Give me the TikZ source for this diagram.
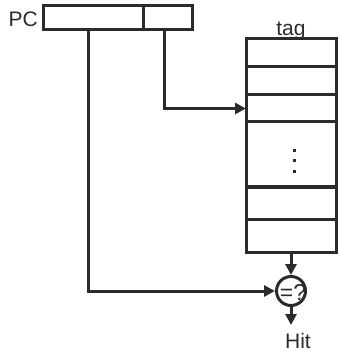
\documentclass[tikz,border=0pt]{standalone}
\usepackage{fontspec}
\setmainfont{Liberation Sans}
\usetikzlibrary{arrows.meta}
\definecolor{ink}{HTML}{2B2B2B}
\tikzset{
  lbl/.style={font=\fontsize{21}{24}\selectfont,text=ink,inner sep=0pt},
  regbox/.style={draw=ink,line width=3pt,rectangle,anchor=north west,inner sep=0pt,outer sep=0pt,minimum height=24pt},
  cell/.style={draw=ink,line width=3pt,rectangle,anchor=north west,inner sep=0pt,outer sep=0pt,minimum width=90pt},
  arr/.style={draw=ink,line width=3pt,-{Triangle[length=11pt,width=11pt]}}}
\begin{document}
\begin{tikzpicture}[x=1pt,y=-1pt]
\useasboundingbox (0,0) rectangle (338,352);
% PC register
\node[regbox,minimum width=100pt] (pcA) at (43,6) {};
\node[regbox,minimum width=49pt] (pcB) at (143,6) {};
\node[lbl,anchor=base east] (pc) at (38,27) {PC};
% tag array
\node[lbl,anchor=base] (tag) at (291,36) {tag};
\node[cell,minimum height=28pt] (r1) at (246,39) {};
\node[cell,minimum height=28pt] (r2) at (246,67) {};
\node[cell,minimum height=27pt] (r3) at (246,95) {};
\node[cell,minimum height=65pt] (r4) at (246,122) {};
\node[cell,minimum height=32pt] (r5) at (246,187) {};
\node[cell,minimum height=33pt] (r6) at (246,219) {};
\fill[ink] (292.5,149.5) rectangle ++(3,3);
\fill[ink] (292.5,159.5) rectangle ++(3,3);
\fill[ink] (292.5,170) rectangle ++(3,3);
% comparator
\node[draw=ink,line width=3pt,circle,minimum size=29pt,inner sep=0pt] (cmp) at (291,291) {};
\node[lbl,font=\fontsize{23}{24}\selectfont] (cmpq) at (293,292) {=?};
\node[lbl,anchor=north,outer ysep=8pt] (hit) at (298,325) {Hit};
% connectors
\draw[arr] ([xshift=-3.5pt]pcB.south) |- (r3.west);
\draw[arr] ([xshift=-5pt]pcA.south) |- (cmp.west);
\draw[arr] (r6.south -| cmp.north) -- (cmp.north);
\draw[arr] (cmp.south) -- (cmp.south |- hit.north);
\end{tikzpicture}
\end{document}
